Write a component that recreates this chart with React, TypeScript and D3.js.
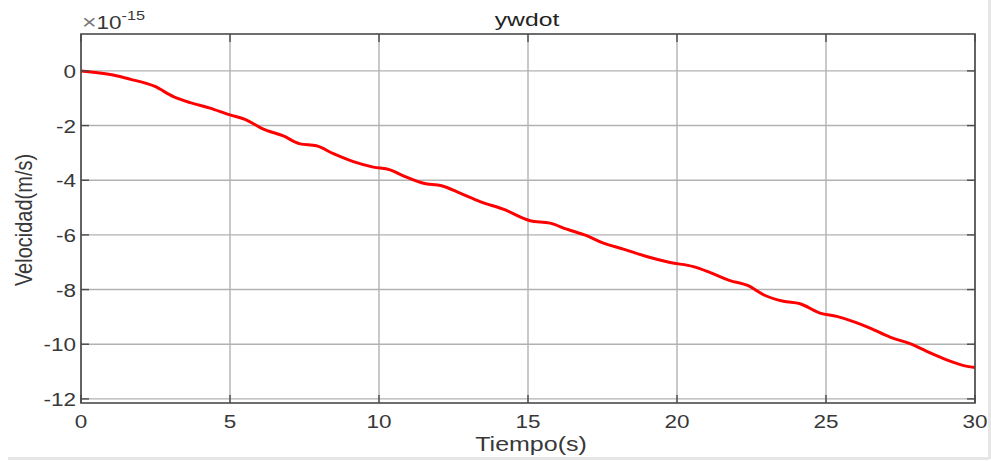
import React from "react";
import * as d3 from "d3";

const timeS = [0, 1.08, 1.64, 2.48, 3.1, 3.66, 4.33, 5.0, 5.5, 6.12, 6.79, 7.35, 7.9, 8.47, 9.14, 9.81, 10.37, 10.82, 11.49, 12.1, 12.72, 13.39, 14.17, 15.07, 15.74, 16.3, 16.97, 17.53, 18.2, 18.98, 19.77, 20.55, 21.1, 21.78, 22.39, 22.9, 23.57, 24.13, 24.8, 25.36, 25.92, 26.48, 27.15, 27.82, 28.38, 29.05, 29.74, 30];
const ywdot = [0, -0.15, -0.3, -0.57, -0.94, -1.16, -1.36, -1.61, -1.77, -2.13, -2.38, -2.67, -2.74, -3.03, -3.32, -3.52, -3.62, -3.84, -4.11, -4.2, -4.47, -4.78, -5.06, -5.48, -5.57, -5.79, -6.03, -6.3, -6.52, -6.79, -7.01, -7.16, -7.37, -7.67, -7.86, -8.19, -8.43, -8.52, -8.86, -8.98, -9.17, -9.41, -9.74, -9.98, -10.26, -10.57, -10.81, -10.85];
const xTicks = [0, 5, 10, 15, 20, 25, 30];
const yTicks = [-12, -10, -8, -6, -4, -2, 0];
const titleText = "ywdot";
const xLabel = "Tiempo(s)";
const yLabel = "Velocidad(m/s)";

const W = 991;
const H = 461;
const L = 81, R = 975, T = 34, B = 403;
const FONT = "'Liberation Sans', Arial, Helvetica, sans-serif";
const TXT = "#383838";
const SX = 1.25;

export default function App() {
  const x = d3.scaleLinear().domain([0, 30]).range([L, R]);
  const y = d3.scaleLinear().domain([-12.15, 1.35]).range([B, T]);
  const line = d3
    .line<number>()
    .x((_, i) => x(timeS[i]))
    .y((d) => y(d))
    .curve(d3.curveMonotoneX);
  const tl = 8;

  return (
    <svg
      width={W}
      height={H}
      style={{ position: "absolute", left: 0, top: 0, background: "#fff" }}
    >
      <rect x={0} y={0} width={W} height={H} fill="#fff" />
      {/* figure edge */}
      <line x1={8} x2={989} y1={458.5} y2={458.5} stroke="#e6e6e6" strokeWidth={3} />
      <line x1={989.5} x2={989.5} y1={0} y2={459} stroke="#e6e6e6" strokeWidth={3} />

      {/* grid */}
      {xTicks.map((t) => (
        <line key={"gx" + t} x1={x(t)} x2={x(t)} y1={T} y2={B} stroke="#b2b2b2" strokeWidth={1.4} />
      ))}
      {yTicks.map((t) => (
        <line key={"gy" + t} x1={L} x2={R} y1={y(t)} y2={y(t)} stroke="#b2b2b2" strokeWidth={1.4} />
      ))}

      {/* data */}
      <path d={line(ywdot) || ""} fill="none" stroke="#ff0000" strokeWidth={3} strokeLinejoin="round" />

      {/* box and ticks */}
      <rect x={L} y={T} width={R - L} height={B - T} fill="none" stroke="#4a4a4a" strokeWidth={1.6} />
      {xTicks.map((t) => (
        <g key={"tx" + t}>
          <line x1={x(t)} x2={x(t)} y1={B} y2={B - tl} stroke="#4a4a4a" strokeWidth={1.4} />
          <line x1={x(t)} x2={x(t)} y1={T} y2={T + tl} stroke="#4a4a4a" strokeWidth={1.4} />
          <text
            transform={`translate(${x(t)},428) scale(${SX},1)`}
            textAnchor="middle"
            fontFamily={FONT}
            fontSize={18}
            fill={TXT}
          >
            {t}
          </text>
        </g>
      ))}
      {yTicks.map((t) => (
        <g key={"ty" + t}>
          <line x1={L} x2={L + tl} y1={y(t)} y2={y(t)} stroke="#4a4a4a" strokeWidth={1.4} />
          <line x1={R} x2={R - tl} y1={y(t)} y2={y(t)} stroke="#4a4a4a" strokeWidth={1.4} />
          <text
            transform={`translate(76,${y(t) + 7}) scale(${SX},1)`}
            textAnchor="end"
            fontFamily={FONT}
            fontSize={18}
            fill={TXT}
          >
            {t}
          </text>
        </g>
      ))}

      {/* exponent */}
      <text transform={`translate(82,29) scale(${SX},1)`} fontFamily={FONT} fontSize={18} fill={TXT}>
        <tspan fill="#777" fontSize={20}>×</tspan>
        <tspan>10</tspan>
        <tspan dy={-9} fontSize={13}>-15</tspan>
      </text>

      {/* title */}
      <text
        transform={`translate(527,26) scale(1.3,1)`}
        textAnchor="middle"
        fontFamily={FONT}
        fontSize={19}
        fill="#222"
      >
        {titleText}
      </text>

      {/* x label */}
      <text
        transform={`translate(531,451) scale(${SX},1)`}
        textAnchor="middle"
        fontFamily={FONT}
        fontSize={20}
        fill={TXT}
      >
        {xLabel}
      </text>

      {/* y label */}
      <text
        transform={`translate(32,220) rotate(-90) scale(1,1.2)`}
        textAnchor="middle"
        fontFamily={FONT}
        fontSize={20}
        fill={TXT}
      >
        {yLabel}
      </text>
    </svg>
  );
}
